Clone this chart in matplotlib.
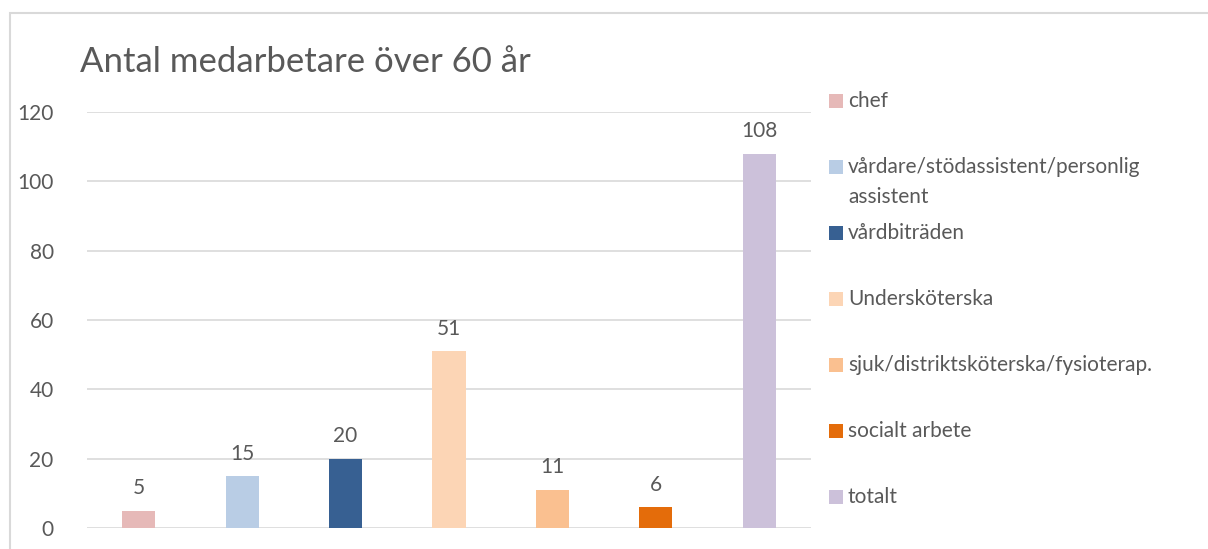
import matplotlib.pyplot as plt
from matplotlib.patches import Rectangle

# Data
categories = ["chef", "vårdare/stödassistent/personlig\nassistent", "vårdbiträden",
              "Undersköterska", "sjuk/distriktsköterska/fysioterap.",
              "socialt arbete", "totalt"]
values = [5, 15, 20, 51, 11, 6, 108]
colors = ["#E6B9B8", "#B9CDE5", "#376092", "#FCD5B5", "#FAC090", "#E46C0A", "#CCC1DA"]
yticks = [0, 20, 40, 60, 80, 100, 120]

TEXT = "#595959"
GRID = "#D9D9D9"
plt.rcParams['font.family'] = ['Lato', 'DejaVu Sans']

W, H = 1208, 549
fig = plt.figure(figsize=(W / 100, H / 100), dpi=100)

# Outer chart border (cut off at right/bottom like in the screenshot)
fig.patches.append(Rectangle((10 / W, -0.1), 1.2, 1 - 13 / H + 0.1, transform=fig.transFigure,
                             fill=False, edgecolor=GRID, linewidth=1.5))

ax = fig.add_axes([87 / W, 1 - 528 / H, (811 - 87) / W, (528 - 112) / H])
x = range(len(values))
bars = ax.bar(x, values, width=0.32, color=colors, zorder=3)
for xi, v in zip(x, values):
    ax.annotate(str(v), (xi, v), xytext=(0, 9), textcoords='offset points',
                ha='center', va='bottom', fontsize=15, color=TEXT)

ax.set_xlim(-0.5, len(values) - 0.5)
ax.set_ylim(0, 120)
ax.set_yticks(yticks)
ax.tick_params(axis='y', length=0, labelsize=15, labelcolor=TEXT, pad=24)
ax.set_xticks([])
ax.grid(axis='y', color=GRID, linewidth=1.2, zorder=0)
for s in ax.spines.values():
    s.set_visible(False)

fig.text(80 / W, 1 - 72 / H, "Antal medarbetare över 60 år", fontsize=25, color=TEXT,
         ha='left', va='baseline')

# Legend (Excel style, evenly spaced entries)
y0, step = 101, 66
for i, (lab, c) in enumerate(zip(categories, colors)):
    yc = y0 + i * step
    fig.patches.append(Rectangle((829 / W, 1 - (yc + 7) / H), 14 / W, 14 / H,
                                 transform=fig.transFigure, facecolor=c, edgecolor='none'))
    fig.text(848 / W, 1 - (yc - 10) / H, lab, fontsize=15, color=TEXT, ha='left', va='top',
             linespacing=1.6)

fig.savefig("out.png", dpi=100)
